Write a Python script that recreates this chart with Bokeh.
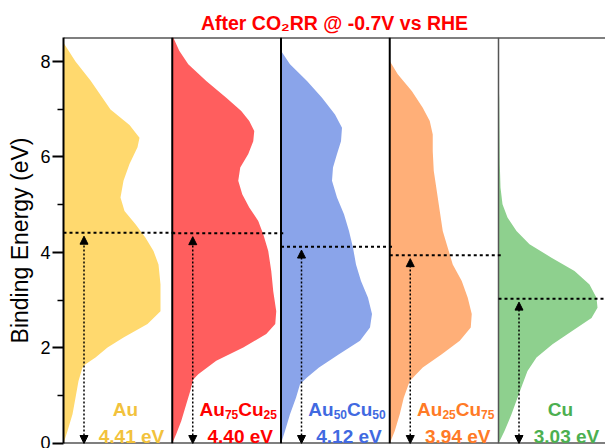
from bokeh.plotting import figure
from bokeh.models import Range1d, FixedTicker, Label, Arrow, NormalHead
from bokeh.embed import file_html
from bokeh.resources import INLINE

# ---------------- data ----------------
title_text = "After CO\u2082RR @ -0.7V vs RHE"
name_main = [["Au"], ["Au", "Cu"], ["Au", "Cu"], ["Au", "Cu"], ["Cu"]]
name_sub = [[""], ["75", "25"], ["50", "50"], ["25", "75"], [""]]
d_band_center = [4.41, 4.40, 4.12, 3.94, 3.03]

au_E = [8.39, 8.00, 7.60, 6.99, 6.67, 6.40, 6.20, 5.85, 5.50, 5.15, 4.87, 4.59, 4.31, 4.03,
        3.75, 3.33, 2.77, 2.50, 2.22, 2.01, 1.80, 1.66, 1.59, 1.31, 0.96, 0.61, 0.26, 0.00]
au_I = [0, 12, 27, 47, 66, 76, 74, 66, 60, 57, 61, 72, 82, 90,
        95, 97, 97, 84, 60, 44, 32, 22, 19, 15, 12, 9, 4, 0]

au75_E = [8.50, 8.22, 7.94, 7.59, 7.24, 6.96, 6.75, 6.54, 6.33, 6.06, 5.78, 5.50, 5.22, 4.94,
          4.66, 4.38, 4.03, 3.61, 3.19, 2.77, 2.50, 2.29, 2.01, 1.73, 1.45, 1.34, 1.10, 0.82,
          0.47, 0.20, 0.00]
au75_I = [1, 7, 16, 34, 54, 69, 77, 82, 81, 76, 68, 66, 70, 77,
          86, 91, 96, 99, 101, 104, 103, 94, 71, 44, 26, 21, 18, 14,
          9, 4, 0]

au50_E = [8.22, 7.94, 7.59, 7.24, 6.89, 6.61, 6.33, 6.06, 5.78, 5.50, 5.15, 4.80, 4.45, 4.10,
          3.75, 3.40, 3.05, 2.71, 2.43, 2.15, 1.87, 1.59, 1.38, 1.24, 0.96, 0.61, 0.26, 0.00]
au50_I = [0, 9, 26, 41, 54, 61, 60, 56, 52, 51, 56, 63, 68, 72,
          75, 80, 87, 91, 89, 79, 58, 38, 26, 19, 15, 9, 4, 0]

au25_E = [8.01, 7.73, 7.38, 7.03, 6.75, 6.47, 6.12, 5.71, 5.29, 4.87, 4.45, 4.10, 3.75, 3.40,
          3.05, 2.71, 2.43, 2.15, 1.87, 1.59, 1.31, 0.96, 0.61, 0.26, 0.00]
au25_I = [0, 8, 22, 33, 40, 43, 43, 44, 47, 50, 53, 58, 63, 72,
          78, 82, 81, 70, 52, 33, 20, 14, 10, 5, 0]

cu_E = [7.59, 7.24, 6.54, 5.85, 5.36, 5.01, 4.73, 4.45, 4.17, 3.89, 3.61, 3.33, 3.05, 2.84,
        2.63, 2.36, 2.08, 1.80, 1.52, 1.24, 0.96, 0.61, 0.26, 0.00]
cu_I = [0, 0.7, 1, 1.3, 2, 4, 9, 18, 31, 53, 76, 91, 98, 99,
        93, 74, 54, 38, 29, 24, 19, 13, 6, 0]

energies = [au_E, au75_E, au50_E, au25_E, cu_E]
intensities = [au_I, au75_I, au50_I, au25_I, cu_I]

y_ticks = [0, 2, 4, 6, 8]
y_minor = [1, 3, 5, 7]
E_MAX = 8.5

# ---------------- style ----------------
fill_colors = ["#FFD96E", "#FF5E5E", "#8AA4EA", "#FFAF78", "#8ED08E"]
text_colors = ["#F2C23C", "#FF0000", "#4169E1", "#FF7A26", "#4CAF50"]
FONT = "Liberation Sans"
PANEL_PX = 108.75       # pixel width of a panel
FRAME_BOTTOM = 443      # canvas y of E = 0
FRAME_TOP = 37          # canvas y of E = 8.5
PX_PER_EV = (FRAME_BOTTOM - FRAME_TOP) / E_MAX
I_SCALE = 108.75        # intensity units per panel width
LEFT = 63
WIDTH, HEIGHT = 605, 448

W = {'A': 722, 'u': 611, 'C': 722, 'O': 778, 'R': 722, 'H': 722, 'E': 667, 'V': 667,
     'f': 333, 't': 333, 'e': 556, 'r': 389, 'v': 556, 's': 556, '@': 975, '-': 333,
     '.': 278, ' ': 278}


def tw(s, size):
    return sum(W.get(c, 556) for c in s) / 1000.0 * size


def ev(y_canvas):
    return (FRAME_BOTTOM - y_canvas) / PX_PER_EV


p = figure(width=WIDTH, height=HEIGHT, output_backend="svg", toolbar_location=None,
           x_range=Range1d(0, (WIDTH - LEFT) / PANEL_PX),
           y_range=Range1d(0, E_MAX),
           min_border_left=LEFT, min_border_right=0, min_border_top=FRAME_TOP,
           min_border_bottom=HEIGHT - FRAME_BOTTOM)
p.outline_line_color = None
p.xaxis.visible = False
p.xgrid.visible = False
p.ygrid.visible = False
p.background_fill_color = "white"
p.border_fill_color = "white"

p.title.text = title_text
p.title.align = "center"
p.title.offset = 8
p.title.text_font = FONT
p.title.text_font_size = "19.5px"
p.title.text_font_style = "bold"
p.title.text_color = "#FF0000"
p.title.standoff = 8

ya = p.yaxis[0]
ya.ticker = FixedTicker(ticks=y_ticks, minor_ticks=y_minor)
ya.axis_label = "Binding Energy (eV)"
ya.axis_label_text_font = FONT
ya.axis_label_text_font_size = "23px"
ya.axis_label_text_font_style = "normal"
ya.axis_label_text_color = "black"
ya.axis_label_standoff = 4
ya.major_label_text_font = FONT
ya.major_label_text_font_size = "18px"
ya.major_label_text_color = "black"
ya.major_label_standoff = 2
ya.axis_line_width = 2
ya.axis_line_color = "black"
ya.major_tick_line_width = 2
ya.major_tick_out = 11
ya.major_tick_in = 0
ya.minor_tick_line_width = 1.5
ya.minor_tick_out = 6
ya.minor_tick_in = 0

n = len(energies)
for i in range(n):
    x2 = [i + v / I_SCALE for v in intensities[i]]
    p.harea(y=energies[i], x1=i, x2=x2, fill_color=fill_colors[i], fill_alpha=1.0)

# frame lines
p.segment(x0=[0, 0], x1=[n, n], y0=[E_MAX, 0], y1=[E_MAX, 0], line_color="black", line_width=2)
p.segment(x0=list(range(1, n - 1)), x1=list(range(1, n - 1)), y0=0, y1=E_MAX,
          line_color="black", line_width=2)
p.segment(x0=[n - 1], x1=[n - 1], y0=0, y1=E_MAX, line_color="#555555", line_width=1.5)

# d-band center lines
p.segment(x0=[i for i in range(n)], x1=[i + 1.04 for i in range(n)],
          y0=d_band_center, y1=d_band_center, line_color="black", line_width=2,
          line_dash="3 3")

for i in range(n):
    xa = i + 20.5 / PANEL_PX
    p.add_layout(Arrow(x_start=xa, y_start=0.0, x_end=xa, y_end=d_band_center[i] - 0.07,
                       start=NormalHead(size=8, fill_color="black", line_color="black"),
                       end=NormalHead(size=8, fill_color="black", line_color="black"),
                       line_color="black", line_width=1.5, line_dash="2 2"))

# sample labels
MAIN_SZ, SUB_SZ = 19, 12
name_base = ev(409)
sub_base = ev(414)
val_base = ev(436)
for i in range(n):
    pieces = []
    for m, s in zip(name_main[i], name_sub[i]):
        pieces.append((m, MAIN_SZ, name_base))
        if s:
            pieces.append((s, SUB_SZ, sub_base))
    total = sum(tw(t, sz) for t, sz, _ in pieces)
    center = 62 if len(pieces) == 1 else 66
    start = center - total / 2
    for t, sz, yb in pieces:
        p.add_layout(Label(x=i, y=yb, x_offset=start, text=t, text_font=FONT,
                           text_font_size=f"{sz}px", text_font_style="bold",
                           text_color=text_colors[i], text_align="left",
                           text_baseline="alphabetic"))
        start += tw(t, sz)
    vt = f"{d_band_center[i]:.2f} eV"
    p.add_layout(Label(x=i, y=val_base, x_offset=68 - tw(vt, MAIN_SZ) / 2, text=vt,
                       text_font=FONT, text_font_size=f"{MAIN_SZ}px", text_font_style="bold",
                       text_color=text_colors[i], text_align="left",
                       text_baseline="alphabetic"))

open("out.html", "w").write(file_html(p, INLINE))
